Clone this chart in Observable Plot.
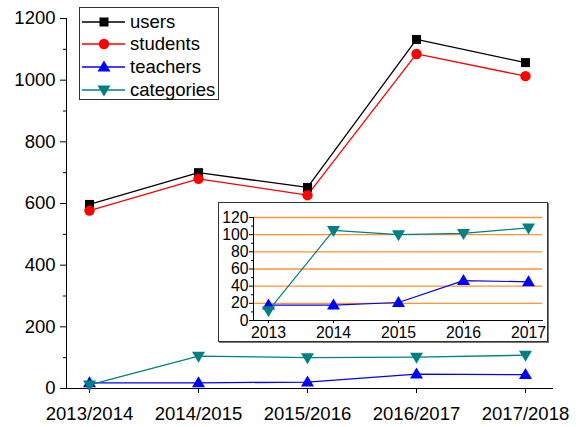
<!DOCTYPE html>
<html>
<head>
<meta charset="utf-8">
<script src="https://cdn.jsdelivr.net/npm/d3@7"></script>
<script src="https://cdn.jsdelivr.net/npm/@observablehq/plot@0.6"></script>
<style>
  html, body { margin: 0; padding: 0; background: #fff; }
  #wrap { position: relative; width: 576px; height: 427px; overflow: hidden; font-family: "Liberation Sans", Arial, sans-serif; }
  #main { position: absolute; left: 0; top: 0; }
  #inset { position: absolute; left: 218px; top: 202px; width: 330px; height: 140px; box-sizing: border-box;
           border: 1px solid #333; background: #fff; box-shadow: 1px 1px 0 #777; }
  #legend { position: absolute; left: 79px; top: 7px; width: 140px; height: 93px; box-sizing: border-box;
            border: 1px solid #333; background: #fff; }
  .lrow { position: absolute; left: 1px; height: 22px; display: flex; align-items: center; font-size: 18.5px; }
  .lrow svg { display: block; margin-right: 5px; }
</style>
</head>
<body>
<div id="wrap">
  <div id="main"></div>
  <div id="legend"></div>
  <div id="inset"></div>
</div>
<script>
// ---- data ----
const seasons = ["2013/2014", "2014/2015", "2015/2016", "2016/2017", "2017/2018"];
const years = ["2013", "2014", "2015", "2016", "2017"];
const users = [597, 700, 652, 1132, 1057];
const students = [577, 680, 627, 1085, 1013];
const teachers = [18, 18, 21, 46.5, 45];
const categories = [11.5, 105, 100, 101.5, 108];
const seriesNames = ["users", "students", "teachers", "categories"];
const seriesColors = ["#000000", "#ff0000", "#0000ff", "#008080"];
const mainYTicks = [0, 200, 400, 600, 800, 1000, 1200];
const mainYMinor = [100, 300, 500, 700, 900, 1100];
const insetYTicks = [0, 20, 40, 60, 80, 100, 120];
const insetYMinor = [10, 30, 50, 70, 90, 110];
const insetGrid = [20, 40, 60, 80, 100, 120];

const seriesValues = {users, students, teachers, categories};
const rows = seriesNames.flatMap(name =>
  seasons.map((s, i) => ({series: name, season: s, year: years[i], value: seriesValues[name][i]})));
const insetRows = rows.filter(d => d.series === "teachers" || d.series === "categories");

// ---- symbols (fixed pixel sizes) ----
const symSquare = {draw(ctx) { const h = 4.5; ctx.moveTo(-h, -h); ctx.lineTo(h, -h); ctx.lineTo(h, h); ctx.lineTo(-h, h); ctx.closePath(); }};
const symCircle = {draw(ctx) { const r = 5.2; ctx.moveTo(r, 0); ctx.arc(0, 0, r, 0, 2 * Math.PI); ctx.closePath(); }};
const symUp = {draw(ctx) { const w = 6.5, h = 11; ctx.moveTo(0, -h * 0.6); ctx.lineTo(w, h * 0.4); ctx.lineTo(-w, h * 0.4); ctx.closePath(); }};
const symDown = {draw(ctx) { const w = 6.5, h = 11; ctx.moveTo(0, h * 0.6); ctx.lineTo(w, -h * 0.4); ctx.lineTo(-w, -h * 0.4); ctx.closePath(); }};
const seriesSymbols = [symSquare, symCircle, symUp, symDown];

const font = '"Liberation Sans", Arial, sans-serif';
const plain = d => String(d);

// ---- main chart ----
const main = Plot.plot({
  width: 576, height: 427,
  marginLeft: 66, marginRight: 24, marginTop: 18, marginBottom: 39,
  style: {fontFamily: font, fontSize: "18.5px", color: "#000", background: "transparent", overflow: "visible"},
  x: {type: "point", domain: seasons, padding: 0.226, align: 0.45},
  y: {domain: [0, 1200]},
  color: {domain: seriesNames, range: seriesColors},
  symbol: {domain: seriesNames, range: seriesSymbols},
  marks: [
    Plot.axisY({ticks: mainYTicks, tickSize: 6, tickPadding: 5, tickFormat: plain, label: null, fontSize: 18.5}),
    Plot.axisY({ticks: mainYMinor, tickSize: 3, tickFormat: () => "", label: null}),
    Plot.axisX({tickSize: 5, tickPadding: 13, label: null, fontSize: 18.5}),
    Plot.frame({anchor: "left", stroke: "#000"}),
    Plot.frame({anchor: "bottom", stroke: "#000"}),
    Plot.line(rows, {x: "season", y: "value", z: "series", stroke: "series", strokeWidth: 1.3}),
    Plot.dot(rows, {x: "season", y: "value", symbol: "series", fill: "series", stroke: "none", r: 5})
  ]
});
document.getElementById("main").appendChild(main);

// ---- inset chart ----
const inset = Plot.plot({
  width: 328, height: 138,
  marginLeft: 34, marginRight: 5, marginTop: 14, marginBottom: 21,
  style: {fontFamily: font, fontSize: "15.8px", color: "#000", background: "transparent", overflow: "visible"},
  x: {type: "point", domain: years, padding: 0.215, align: 0.5},
  y: {domain: [0, 120]},
  color: {domain: seriesNames, range: seriesColors},
  symbol: {domain: seriesNames, range: seriesSymbols},
  marks: [
    Plot.ruleY(insetGrid, {stroke: "#ff9430", strokeWidth: 1.4}),
    Plot.axisY({ticks: insetYTicks, tickSize: 4, tickPadding: 1, tickFormat: plain, label: null, fontSize: 15.8}),
    Plot.axisY({ticks: insetYMinor, tickSize: 2, tickFormat: () => "", label: null}),
    Plot.axisX({tickSize: 3, tickPadding: 3, label: null, fontSize: 15.8}),
    Plot.frame({anchor: "left", stroke: "#000"}),
    Plot.frame({anchor: "bottom", stroke: "#000"}),
    Plot.line(insetRows, {x: "year", y: "value", z: "series", stroke: "series", strokeWidth: 1.2}),
    Plot.dot(insetRows, {x: "year", y: "value", symbol: "series", fill: "series", stroke: "none", r: 5})
  ]
});
document.getElementById("inset").appendChild(inset);

// ---- legend ----
const legend = document.getElementById("legend");
seriesNames.forEach((name, i) => {
  const row = document.createElement("div");
  row.className = "lrow";
  row.style.top = (2.5 + i * 22.8) + "px";
  const svg = d3.create("svg").attr("width", 44).attr("height", 22);
  svg.append("line").attr("x1", 1).attr("x2", 44).attr("y1", 11).attr("y2", 11)
    .attr("stroke", seriesColors[i]).attr("stroke-width", 1.3);
  svg.append("path").attr("d", d3.symbol(seriesSymbols[i])()).attr("transform", "translate(23,11)")
    .attr("fill", seriesColors[i]);
  row.appendChild(svg.node());
  const t = document.createElement("span");
  t.textContent = name;
  row.appendChild(t);
  legend.appendChild(row);
});
</script>
</body>
</html>
